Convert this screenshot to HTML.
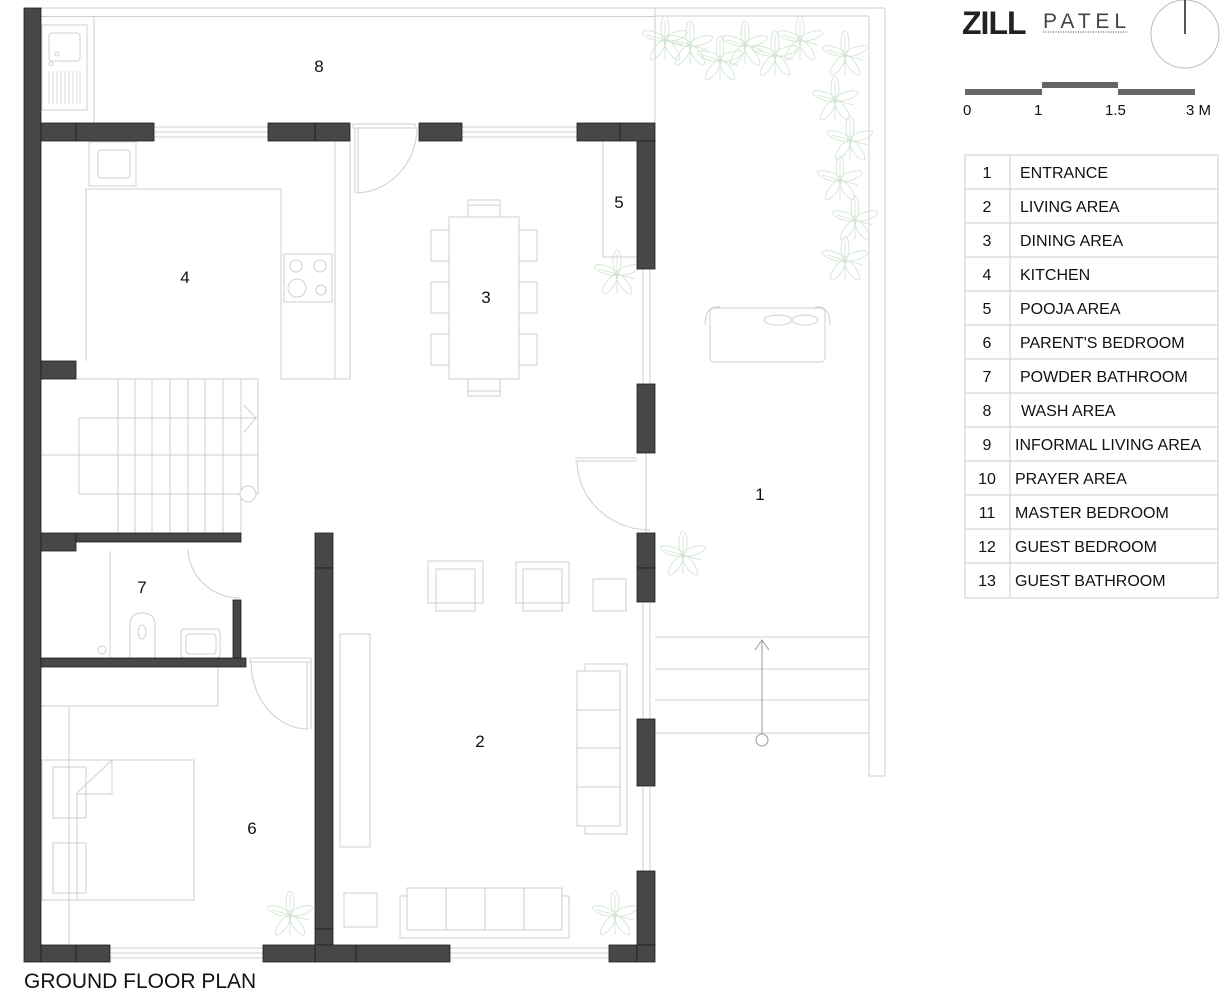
<!DOCTYPE html>
<html><head><meta charset="utf-8"><style>
html,body{margin:0;padding:0;background:#fff;}
svg{display:block;}
text{font-family:"Liberation Sans",sans-serif;fill:#111;}
</style></head><body>
<svg width="1228" height="1000" viewBox="0 0 1228 1000" xmlns="http://www.w3.org/2000/svg">
<defs>
 <g id="pl"><ellipse cx="0" cy="-12" rx="4" ry="12"/><ellipse cx="11" cy="-4" rx="4" ry="12" transform="rotate(72 11 -4)"/><ellipse cx="7" cy="10" rx="4" ry="12" transform="rotate(144 7 10)"/><ellipse cx="-7" cy="10" rx="4" ry="12" transform="rotate(216 -7 10)"/><ellipse cx="-11" cy="-4" rx="4" ry="12" transform="rotate(288 -11 -4)"/><line x1="0" y1="-20" x2="0" y2="20"/><line x1="-18" y1="-5" x2="18" y2="5"/></g>
</defs>
<g fill="none" stroke="#cfcfcf" stroke-width="1">
 <line x1="40" y1="8" x2="885" y2="8"/>
 <line x1="40" y1="16.5" x2="655" y2="16.5"/>
 <polyline points="655,8 655,123"/>
 <polyline points="869,16 869,776 885,776 885,8"/>
 <line x1="655" y1="16" x2="869" y2="16"/>
 <line x1="655" y1="637" x2="869" y2="637"/>
 <line x1="655" y1="669" x2="869" y2="669"/>
 <line x1="655" y1="700" x2="869" y2="700"/>
 <line x1="655" y1="733" x2="869" y2="733"/>
 <line x1="762" y1="733" x2="762" y2="640" stroke="#999"/>
 <polyline points="755,650 762,640 769,650" stroke="#999"/>
 <circle cx="762" cy="740" r="6" fill="#fff" stroke="#999"/>
 <rect x="710" y="308" width="115" height="54" rx="4"/>
 <path d="M705 325 Q705 305 720 307 M830 325 Q830 305 815 307"/>
 <ellipse cx="778" cy="320" rx="14" ry="5"/><ellipse cx="805" cy="320" rx="13" ry="5"/>
 <line x1="643" y1="269" x2="643" y2="384"/><line x1="650" y1="269" x2="650" y2="384"/>
 <line x1="643" y1="602" x2="643" y2="719"/><line x1="650" y1="602" x2="650" y2="719"/>
 <line x1="643" y1="786" x2="643" y2="871"/><line x1="650" y1="786" x2="650" y2="871"/>
 <line x1="646" y1="453" x2="646" y2="533"/>
 <line x1="154" y1="127" x2="268" y2="127"/><line x1="154" y1="132" x2="268" y2="132"/><line x1="154" y1="137" x2="268" y2="137"/>
 <line x1="462" y1="127" x2="577" y2="127"/><line x1="462" y1="132" x2="577" y2="132"/><line x1="462" y1="137" x2="577" y2="137"/>
 <line x1="110" y1="948" x2="263" y2="948"/><line x1="110" y1="953" x2="263" y2="953"/><line x1="110" y1="958" x2="263" y2="958"/>
 <line x1="450" y1="948" x2="609" y2="948"/><line x1="450" y1="953" x2="609" y2="953"/><line x1="450" y1="958" x2="609" y2="958"/>
 <rect x="42" y="25" width="45" height="85"/>
 <rect x="49" y="33" width="31" height="28" rx="3"/>
 <circle cx="57" cy="54" r="2"/><circle cx="51" cy="64" r="2"/>
 <g stroke-width="0.7"><line x1="49" y1="71" x2="49" y2="104"/><line x1="53" y1="71" x2="53" y2="104"/><line x1="57" y1="71" x2="57" y2="104"/><line x1="61" y1="71" x2="61" y2="104"/><line x1="65" y1="71" x2="65" y2="104"/><line x1="69" y1="71" x2="69" y2="104"/><line x1="73" y1="71" x2="73" y2="104"/><line x1="77" y1="71" x2="77" y2="104"/><line x1="80" y1="71" x2="80" y2="104"/></g>
 <line x1="94" y1="17" x2="94" y2="123"/>
 <rect x="89" y="142" width="47" height="44"/>
 <rect x="98" y="150" width="32" height="28" rx="3"/>
 <polyline points="86,361 86,189 281,189 281,379 350,379 350,141"/>
 <line x1="335" y1="141" x2="335" y2="379"/>
 <rect x="284" y="254" width="48" height="48"/>
 <circle cx="296" cy="266" r="6"/><circle cx="320" cy="266" r="6"/><circle cx="297" cy="288" r="9"/><circle cx="321" cy="290" r="5"/>
 <rect x="353" y="124" width="62" height="4"/>
 <line x1="355" y1="128" x2="355" y2="193"/><line x1="358" y1="128" x2="358" y2="193"/>
 <path d="M356 193 A62 66 0 0 0 417 127"/>
 <rect x="449" y="217" width="70" height="162"/>
 <rect x="468" y="200" width="32" height="17"/><line x1="468" y1="205" x2="500" y2="205"/>
 <rect x="468" y="379" width="32" height="17"/><line x1="468" y1="391" x2="500" y2="391"/>
 <rect x="431" y="230" width="18" height="31"/><rect x="431" y="282" width="18" height="31"/><rect x="431" y="334" width="18" height="31"/>
 <rect x="519" y="230" width="18" height="31"/><rect x="519" y="282" width="18" height="31"/><rect x="519" y="334" width="18" height="31"/>
 <polyline points="603,141 603,257 637,257"/>
 <polyline points="41,379 258,379 258,455 41,455"/>
 <rect x="79" y="418" width="179" height="76"/>
 <g><line x1="118" y1="379" x2="118" y2="533"/><line x1="135" y1="379" x2="135" y2="533"/><line x1="152" y1="379" x2="152" y2="533"/><line x1="170" y1="379" x2="170" y2="533"/><line x1="188" y1="379" x2="188" y2="533"/><line x1="205" y1="379" x2="205" y2="533"/><line x1="223" y1="379" x2="223" y2="533"/><line x1="241" y1="379" x2="241" y2="533"/></g>
 <polyline points="244,405 256,418 244,432"/>
 <circle cx="248" cy="494" r="8" fill="#fff"/>
 <line x1="575" y1="458" x2="637" y2="458"/><line x1="575" y1="461" x2="637" y2="461"/>
 <path d="M577 461 A73 70 0 0 0 650 530"/>
 <line x1="110" y1="551" x2="110" y2="658"/>
 <path d="M188 549 A52 50 0 0 0 240 598"/>
 <path d="M130 640 L130 625 Q130 613 142 613 Q155 613 155 625 L155 658 L130 658 Z"/>
 <ellipse cx="142" cy="632" rx="4" ry="7"/>
 <circle cx="102" cy="650" r="4"/>
 <rect x="181" y="629" width="39" height="29" rx="3"/>
 <rect x="186" y="634" width="30" height="20" rx="3"/>
 <rect x="250" y="658" width="61" height="4"/>
 <line x1="307" y1="662" x2="307" y2="729"/><line x1="311" y1="662" x2="311" y2="729"/>
 <path d="M251 662 A57 67 0 0 0 308 729"/>
 <polyline points="41,706 218,706 218,667"/>
 <line x1="69" y1="706" x2="69" y2="945"/>
 <rect x="42" y="760" width="152" height="140"/>
 <rect x="53" y="767" width="33" height="51"/><rect x="53" y="843" width="33" height="50"/>
 <polyline points="77,900 77,793 112,760 112,794 77,794"/>
 <rect x="340" y="634" width="30" height="213"/>
 <rect x="428" y="561" width="55" height="42"/><rect x="436" y="569" width="39" height="42"/>
 <rect x="516" y="562" width="53" height="41"/><rect x="523" y="569" width="39" height="42"/>
 <rect x="593" y="579" width="33" height="32"/>
 <rect x="585" y="664" width="42" height="170"/>
 <rect x="577" y="671" width="43" height="155" fill="#fff"/>
 <line x1="577" y1="710" x2="620" y2="710"/><line x1="577" y1="748" x2="620" y2="748"/><line x1="577" y1="787" x2="620" y2="787"/>
 <rect x="400" y="896" width="169" height="42"/>
 <rect x="407" y="888" width="155" height="42" fill="#fff"/>
 <line x1="446" y1="888" x2="446" y2="930"/><line x1="485" y1="888" x2="485" y2="930"/><line x1="524" y1="888" x2="524" y2="930"/>
 <rect x="344" y="893" width="33" height="34"/>
</g>
<g fill="none" stroke="#cfe3cf" stroke-width="0.8">
 <use href="#pl" x="617" y="274"/><use href="#pl" x="683" y="555"/><use href="#pl" x="290" y="915"/><use href="#pl" x="615" y="915"/>
 <use href="#pl" x="690" y="45"/><use href="#pl" x="745" y="45"/><use href="#pl" x="800" y="40"/><use href="#pl" x="845" y="55"/><use href="#pl" x="835" y="100"/><use href="#pl" x="850" y="140"/><use href="#pl" x="840" y="180"/><use href="#pl" x="855" y="220"/><use href="#pl" x="845" y="260"/><use href="#pl" x="720" y="60"/><use href="#pl" x="775" y="55"/><use href="#pl" x="665" y="40"/>
</g>
<g fill="#474747" stroke="#1e1e1e" stroke-width="0.8">
 <rect x="24" y="8" width="17" height="954"/>
 <rect x="41" y="123" width="35" height="18"/><rect x="76" y="123" width="78" height="18"/>
 <rect x="268" y="123" width="47" height="18"/><rect x="315" y="123" width="35" height="18"/>
 <rect x="419" y="123" width="43" height="18"/>
 <rect x="577" y="123" width="43" height="18"/><rect x="620" y="123" width="35" height="18"/>
 <rect x="637" y="141" width="18" height="128"/>
 <rect x="637" y="384" width="18" height="69"/>
 <rect x="637" y="533" width="18" height="35"/><rect x="637" y="568" width="18" height="34"/>
 <rect x="637" y="719" width="18" height="67"/>
 <rect x="637" y="871" width="18" height="74"/>
 <rect x="41" y="361" width="35" height="18"/>
 <rect x="41" y="533" width="35" height="18"/><rect x="76" y="533" width="165" height="9"/>
 <rect x="41" y="658" width="205" height="9"/><rect x="233" y="600" width="8" height="58"/>
 <rect x="315" y="533" width="18" height="35"/><rect x="315" y="568" width="18" height="361"/><rect x="315" y="929" width="18" height="16"/>
 <rect x="41" y="945" width="35" height="17"/><rect x="76" y="945" width="34" height="17"/>
 <rect x="263" y="945" width="52" height="17"/><rect x="315" y="945" width="41" height="17"/><rect x="356" y="945" width="94" height="17"/>
 <rect x="609" y="945" width="28" height="17"/><rect x="637" y="945" width="18" height="17"/>
</g>
<g font-size="17" text-anchor="middle">
 <text x="319" y="72">8</text><text x="185" y="283">4</text><text x="486" y="303">3</text><text x="619" y="208">5</text>
 <text x="142" y="593">7</text><text x="480" y="747">2</text><text x="252" y="834">6</text><text x="760" y="500">1</text>
</g>
<text x="24" y="988" font-size="21">GROUND FLOOR PLAN</text>
<text x="962" y="34" font-size="32" font-weight="bold" letter-spacing="-1" style="fill:#222">ZILL</text>
<text x="1043" y="28" font-size="21" style="fill:#444" letter-spacing="2" textLength="85">PATEL</text>
<line x1="1043" y1="32" x2="1128" y2="32" stroke="#999" stroke-width="2" stroke-dasharray="1,1.5"/>
<circle cx="1185" cy="34" r="34" fill="none" stroke="#bbb" stroke-width="1"/>
<line x1="1185" y1="0" x2="1185" y2="34" stroke="#555" stroke-width="2"/>
<g fill="#666"><rect x="965" y="89" width="77" height="6"/><rect x="1042" y="82" width="76" height="6"/><rect x="1118" y="89" width="77" height="6"/></g>
<g font-size="15"><text x="963" y="115">0</text><text x="1034" y="115">1</text><text x="1105" y="115">1.5</text><text x="1186" y="115">3 M</text></g>
<g fill="none" stroke="#ccc" stroke-width="1">
 <rect x="965" y="155" width="253" height="443"/>
 <line x1="1010" y1="155" x2="1010" y2="598"/>
 <line x1="965" y1="189" x2="1218" y2="189"/><line x1="965" y1="223" x2="1218" y2="223"/><line x1="965" y1="257" x2="1218" y2="257"/><line x1="965" y1="291" x2="1218" y2="291"/><line x1="965" y1="325" x2="1218" y2="325"/><line x1="965" y1="359" x2="1218" y2="359"/><line x1="965" y1="393" x2="1218" y2="393"/><line x1="965" y1="427" x2="1218" y2="427"/><line x1="965" y1="461" x2="1218" y2="461"/><line x1="965" y1="495" x2="1218" y2="495"/><line x1="965" y1="529" x2="1218" y2="529"/><line x1="965" y1="563" x2="1218" y2="563"/>
</g>
<g font-size="16">
 <g text-anchor="middle"><text x="987" y="178">1</text><text x="987" y="212">2</text><text x="987" y="246">3</text><text x="987" y="280">4</text><text x="987" y="314">5</text><text x="987" y="348">6</text><text x="987" y="382">7</text><text x="987" y="416">8</text><text x="987" y="450">9</text><text x="987" y="484">10</text><text x="987" y="518">11</text><text x="987" y="552">12</text><text x="987" y="586">13</text></g>
 <text x="1020" y="178">ENTRANCE</text><text x="1020" y="212">LIVING AREA</text><text x="1020" y="246">DINING AREA</text><text x="1020" y="280">KITCHEN</text><text x="1020" y="314">POOJA AREA</text><text x="1020" y="348">PARENT'S BEDROOM</text><text x="1020" y="382">POWDER BATHROOM</text><text x="1021" y="416">WASH AREA</text><text x="1015" y="450">INFORMAL LIVING AREA</text><text x="1015" y="484">PRAYER AREA</text><text x="1015" y="518">MASTER BEDROOM</text><text x="1015" y="552">GUEST BEDROOM</text><text x="1015" y="586">GUEST BATHROOM</text>
</g>
</svg>
</body></html>
